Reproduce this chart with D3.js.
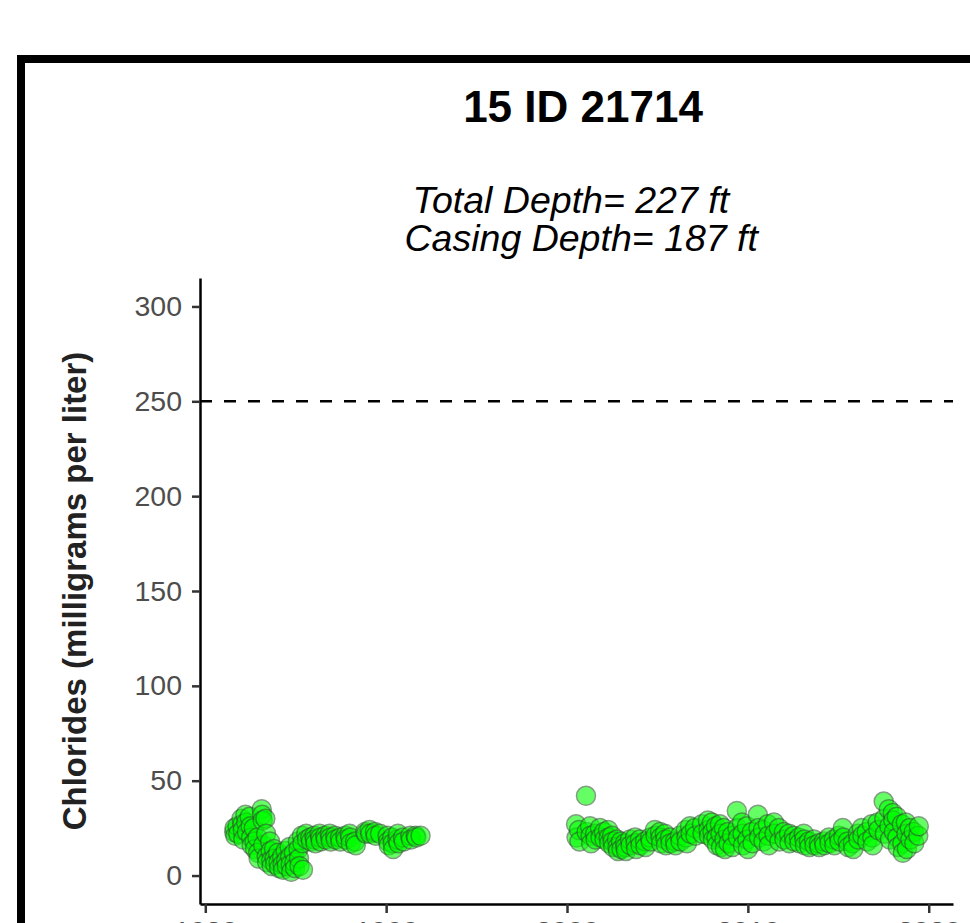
<!DOCTYPE html>
<html lang="en">
<head>
  <meta charset="UTF-8">
  <title>15 ID 21714</title>
  <style>
    body { margin: 0; background: #fff; }
    svg { display: block; font-family: Arial, "Liberation Sans", sans-serif; }
  </style>
</head>
<body>
  <svg id="svg" width="970" height="923"></svg>
  <script src="https://d3js.org/d3.v7.min.js"></script>
  <script>
    // tick values and reference line
    const yTicks = [0, 50, 100, 150, 200, 250, 300]
    const xTicks = [1980, 1990, 2000, 2010, 2020]
    const limitLine = 250

    // samples, first period (decimal year / mg per liter)
    const earlyYears = [
      1981.60, 1981.62, 1981.66, 1981.78, 1981.82, 1982.00, 1982.04, 1982.07, 1982.10,
      1982.22, 1982.26, 1982.30, 1982.45, 1982.50, 1982.53, 1982.56, 1982.68, 1982.72,
      1982.75, 1982.88, 1982.92, 1982.95, 1983.12, 1983.14, 1983.17, 1983.20, 1983.32,
      1983.36, 1983.39, 1983.42, 1983.58, 1983.61, 1983.64, 1983.67, 1983.80, 1983.83,
      1983.86, 1984.02, 1984.05, 1984.08, 1984.24, 1984.27, 1984.30, 1984.44, 1984.47,
      1984.50, 1984.66, 1984.69, 1984.72, 1984.75, 1984.90, 1984.93, 1984.96, 1985.12,
      1985.15, 1985.18, 1985.21, 1985.34, 1985.37, 1985.40, 1985.58, 1985.62, 1985.80,
      1985.84, 1986.03, 1986.06, 1986.09, 1986.32, 1986.35, 1986.38, 1986.63, 1986.66,
      1986.88, 1986.91, 1986.94, 1987.18, 1987.21, 1987.44, 1987.47, 1987.74, 1987.77,
      1987.98, 1988.01, 1988.04, 1988.28, 1988.32, 1988.84, 1988.88, 1989.08, 1989.12,
      1989.38, 1989.42, 1989.66, 1990.08, 1990.11, 1990.14, 1990.33, 1990.36, 1990.39,
      1990.62, 1990.65, 1990.68, 1990.93, 1990.97, 1991.33, 1991.37, 1991.63, 1991.67,
      1991.90
    ]
    const earlyChloride = [
      23, 25, 21, 26, 22, 30, 27, 24, 19,
      32, 28, 23, 31, 26, 20, 16, 25, 18,
      14, 20, 12, 9, 35, 32, 29, 16, 30,
      22, 10, 7, 18, 13, 8, 5, 14, 9,
      6, 12, 7, 4, 10, 6, 3, 13, 8,
      5, 15, 10, 6, 2, 12, 7, 4, 18,
      14, 9, 5, 21, 17, 3, 22, 19, 20,
      18, 21, 19, 17, 22, 20, 18, 21, 19,
      22, 20, 18, 21, 19, 20, 18, 21, 19,
      22, 20, 17, 18, 16, 23, 22, 24, 22,
      23, 21, 22, 21, 18, 16, 20, 17, 14,
      19, 22, 17, 20, 18, 21, 19, 21, 20,
      21
    ]

    // samples, second period
    const lateYears = [
      2000.50, 2000.53, 2000.66, 2000.69, 2001.05, 2001.08, 2001.27, 2001.30, 2001.33,
      2001.55, 2001.58, 2001.82, 2001.85, 2002.04, 2002.07, 2002.27, 2002.30, 2002.33,
      2002.49, 2002.52, 2002.55, 2002.76, 2002.79, 2002.82, 2002.98, 2003.01, 2003.20,
      2003.23, 2003.26, 2003.48, 2003.51, 2003.76, 2003.79, 2003.82, 2004.03, 2004.06,
      2004.31, 2004.34, 2004.59, 2004.62, 2004.86, 2004.89, 2005.14, 2005.17, 2005.20,
      2005.41, 2005.44, 2005.47, 2005.69, 2005.72, 2005.97, 2006.00, 2006.24, 2006.27,
      2006.57, 2006.60, 2006.63, 2006.80, 2006.83, 2007.07, 2007.10, 2007.46, 2007.49,
      2007.79, 2007.82, 2007.85, 2008.01, 2008.04, 2008.07, 2008.23, 2008.26, 2008.29,
      2008.45, 2008.48, 2008.51, 2008.67, 2008.70, 2008.73, 2008.90, 2008.93, 2009.12,
      2009.15, 2009.39, 2009.42, 2009.45, 2009.67, 2009.70, 2009.73, 2009.94, 2009.97,
      2010.00, 2010.22, 2010.25, 2010.55, 2010.58, 2010.61, 2010.83, 2010.86, 2011.10,
      2011.13, 2011.16, 2011.44, 2011.47, 2011.71, 2011.74, 2011.99, 2012.02, 2012.27,
      2012.30, 2012.54, 2012.57, 2012.82, 2012.85, 2013.09, 2013.12, 2013.15, 2013.37,
      2013.40, 2013.65, 2013.68, 2013.92, 2013.95, 2014.20, 2014.23, 2014.48, 2014.51,
      2014.75, 2014.78, 2015.03, 2015.06, 2015.25, 2015.28, 2015.52, 2015.55, 2015.80,
      2015.83, 2016.08, 2016.11, 2016.30, 2016.33, 2016.57, 2016.60, 2016.85, 2016.88,
      2016.91, 2017.18, 2017.21, 2017.51, 2017.54, 2017.57, 2017.79, 2017.82, 2017.85,
      2018.01, 2018.04, 2018.07, 2018.23, 2018.26, 2018.29, 2018.51, 2018.54, 2018.57,
      2018.73, 2018.76, 2018.79, 2018.95, 2018.98, 2019.17, 2019.20, 2019.42, 2019.45
    ]
    const lateChloride = [
      27, 20, 24, 18, 42, 23, 26, 21, 17,
      22, 19, 25, 20, 23, 19, 24, 20, 17,
      21, 18, 15, 19, 15, 13, 18, 14, 17,
      15, 13, 19, 16, 20, 17, 14, 19, 16,
      18, 15, 20, 18, 24, 21, 23, 20, 17,
      22, 19, 16, 20, 17, 18, 16, 21, 18,
      24, 20, 17, 26, 22, 25, 21, 27, 22,
      29, 24, 21, 28, 23, 19, 26, 20, 16,
      27, 22, 15, 25, 19, 14, 23, 17, 21,
      15, 34, 25, 20, 28, 22, 16, 26, 19,
      14, 23, 17, 32, 25, 20, 24, 18, 27,
      21, 16, 28, 22, 25, 18, 23, 19, 22,
      17, 21, 18, 20, 17, 22, 19, 16, 18,
      15, 19, 16, 17, 15, 18, 16, 20, 17,
      19, 16, 21, 18, 25, 20, 18, 15, 17,
      14, 22, 19, 25, 21, 23, 18, 27, 20,
      16, 28, 24, 39, 30, 22, 35, 26, 19,
      33, 29, 23, 31, 20, 15, 27, 17, 12,
      28, 22, 14, 25, 19, 23, 17, 21, 26
    ]

    const samples = earlyYears.map((d, i) => ({ year: d, value: earlyChloride[i] }))
      .concat(lateYears.map((d, i) => ({ year: d, value: lateChloride[i] })))

    const svg = d3.select('#svg')

    // panel edges
    const panelLeft = 200
    const panelRight = 953
    const panelTop = 278
    const panelBottom = 904

    // outer frame (runs off the right and bottom of the picture)
    svg.append('rect')
      .attr('x', 21)
      .attr('y', 59)
      .attr('width', 1400)
      .attr('height', 1400)
      .attr('fill', '#fff')
      .attr('stroke', '#000')
      .attr('stroke-width', 8)

    // ggplot style 5% expansion
    const xExtent = d3.extent(samples, d => d.year)
    const xPad = (xExtent[1] - xExtent[0]) * 0.05
    const xScale = d3.scaleLinear()
      .domain([xExtent[0] - xPad, xExtent[1] + xPad])
      .range([panelLeft, panelRight])

    const yPad = (yTicks[yTicks.length - 1] - yTicks[0]) * 0.05
    const yScale = d3.scaleLinear()
      .domain([yTicks[0] - yPad, yTicks[yTicks.length - 1] + yPad])
      .range([panelBottom, panelTop])

    // titles
    svg.append('text')
      .attr('x', 583)
      .attr('y', 122)
      .attr('text-anchor', 'middle')
      .attr('font-size', 44)
      .attr('font-weight', 'bold')
      .attr('fill', '#000')
      .text('15 ID 21714')

    const subtitle = ['Total Depth= 227 ft ', ' Casing Depth= 187 ft']
    svg.selectAll('.subtitle')
      .data(subtitle)
      .enter()
      .append('text')
      .attr('class', 'subtitle')
      .attr('x', 576)
      .attr('y', (d, i) => 213 + i * 38)
      .attr('text-anchor', 'middle')
      .attr('font-size', 37.5)
      .attr('font-style', 'italic')
      .attr('fill', '#000')
      .style('white-space', 'pre')
      .text(d => d)

    // y axis
    const yAxis = svg.append('g')
      .attr('transform', `translate(${panelLeft},0)`)
      .call(d3.axisLeft(yScale).tickValues(yTicks).tickSize(8).tickSizeOuter(0).tickPadding(10))
    yAxis.select('.domain').attr('stroke', '#000').attr('stroke-width', 2.5)
    yAxis.selectAll('.tick line').attr('stroke', '#333').attr('stroke-width', 2.5)
    yAxis.selectAll('.tick text')
      .attr('font-size', 28.5)
      .attr('font-family', 'Arial, "Liberation Sans", sans-serif')
      .attr('fill', '#4d4d4d')

    // x axis
    const xAxis = svg.append('g')
      .attr('transform', `translate(0,${panelBottom})`)
      .call(d3.axisBottom(xScale).tickValues(xTicks).tickSize(9).tickSizeOuter(0)
        .tickPadding(8).tickFormat(d3.format('d')))
    xAxis.select('.domain').attr('stroke', '#000').attr('stroke-width', 2.5)
    xAxis.selectAll('.tick line').attr('stroke', '#333').attr('stroke-width', 2.5)
    xAxis.selectAll('.tick text')
      .attr('font-size', 28.5)
      .attr('font-family', 'Arial, "Liberation Sans", sans-serif')
      .attr('fill', '#4d4d4d')

    svg.append('text')
      .attr('transform', `translate(86,${(panelTop + panelBottom) / 2}) rotate(-90)`)
      .attr('text-anchor', 'middle')
      .attr('font-size', 33)
      .attr('font-weight', 'bold')
      .attr('fill', '#222')
      .text('Chlorides (milligrams per liter)')

    // 250 mg/l reference
    svg.append('line')
      .attr('x1', panelLeft)
      .attr('x2', panelRight)
      .attr('y1', yScale(limitLine))
      .attr('y2', yScale(limitLine))
      .attr('stroke', '#000')
      .attr('stroke-width', 2.5)
      .attr('stroke-dasharray', '12,12')

    svg.append('g')
      .selectAll('circle')
      .data(samples)
      .enter()
      .append('circle')
      .attr('cx', d => xScale(d.year))
      .attr('cy', d => yScale(d.value))
      .attr('r', 9.5)
      .attr('fill', '#00ff00')
      .attr('stroke', '#2d5e2d')
      .attr('stroke-width', 1.5)
      .attr('opacity', 0.6)
  </script>
</body>
</html>
